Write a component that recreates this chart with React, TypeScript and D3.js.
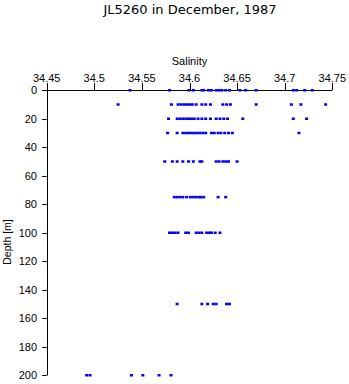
import React from "react";
import * as d3 from "d3";

const depthLevels = [0, 10, 20, 30, 50, 75, 100, 150, 200];

const sal0 = [34.5375, 34.579, 34.5995, 34.604, 34.613, 34.615, 34.620, 34.623, 34.628, 34.631, 34.634, 34.638, 34.642, 34.653, 34.659, 34.670, 34.709, 34.7126, 34.721, 34.729];
const sal10 = [34.525, 34.581, 34.588, 34.591, 34.594, 34.597, 34.600, 34.603, 34.607, 34.613, 34.617, 34.622, 34.635, 34.639, 34.643, 34.670, 34.707, 34.717, 34.743];
const sal20 = [34.578, 34.587, 34.590, 34.593, 34.596, 34.599, 34.602, 34.605, 34.609, 34.613, 34.617, 34.622, 34.628, 34.632, 34.636, 34.640, 34.656, 34.709, 34.723];
const sal30 = [34.577, 34.587, 34.593, 34.596, 34.599, 34.602, 34.605, 34.608, 34.611, 34.614, 34.617, 34.623, 34.626, 34.630, 34.633, 34.637, 34.641, 34.645, 34.715];
const sal50 = [34.574, 34.582, 34.587, 34.593, 34.599, 34.604, 34.611, 34.613, 34.628, 34.631, 34.635, 34.638, 34.641, 34.650];
const sal75 = [34.584, 34.587, 34.590, 34.593, 34.597, 34.601, 34.604, 34.607, 34.610, 34.612, 34.615, 34.630, 34.638];
const sal100 = [34.579, 34.582, 34.585, 34.588, 34.596, 34.599, 34.607, 34.610, 34.613, 34.618, 34.621, 34.623, 34.627, 34.632];
const sal150 = [34.587, 34.613, 34.619, 34.625, 34.628, 34.639, 34.642];
const sal200 = [34.492, 34.4955, 34.539, 34.551, 34.568, 34.5806];

const salByLevel = [sal0, sal10, sal20, sal30, sal50, sal75, sal100, sal150, sal200];

const xTicks = [34.45, 34.5, 34.55, 34.6, 34.65, 34.7, 34.75];
const yTicks = [0, 20, 40, 60, 80, 100, 120, 140, 160, 180, 200];

export default function App() {
  const W = 349, H = 384;
  const left = 46.7, right = 332.3, top = 90, bottom = 375;
  const x = d3.scaleLinear().domain([34.45, 34.75]).range([left, right]);
  const y = d3.scaleLinear().domain([0, 200]).range([top, bottom]);
  const font = "'Liberation Sans', Arial, sans-serif";

  const points: { s: number; d: number }[] = [];
  depthLevels.forEach((d, i) => salByLevel[i].forEach((s) => points.push({ s, d })));

  return (
    <svg width={W} height={H} style={{ position: "absolute", left: 0, top: 0, background: "#fff" }} fontFamily={font}>
      <rect x={0} y={0} width={W} height={H} fill="#fff" />
      <text x={190} y={14} textAnchor="middle" fontSize={13} fontFamily="'DejaVu Sans', sans-serif">JL5260 in December, 1987</text>
      <text x={(left + right) / 2} y={65} textAnchor="middle" fontSize={11}>Salinity</text>
      {/* top axis */}
      <line x1={left - 4.5} x2={right} y1={top + 0.5} y2={top + 0.5} stroke="#000" strokeWidth={1} />
      {xTicks.map((t) => (
        <g key={t}>
          <line x1={Math.round(x(t)) + 0.5} x2={Math.round(x(t)) + 0.5} y1={top} y2={top - 7} stroke="#000" />
          <text x={x(t)} y={82} textAnchor="middle" fontSize={11}>{t}</text>
        </g>
      ))}
      {/* left axis */}
      <line x1={Math.round(left) + 0.5} x2={Math.round(left) + 0.5} y1={top - 7} y2={bottom + 0.5} stroke="#000" />
      {yTicks.map((t) => (
        <g key={t}>
          <line x1={left - 4.5} x2={left} y1={Math.round(y(t)) + 0.5} y2={Math.round(y(t)) + 0.5} stroke="#000" />
          <text x={37} y={y(t) + 4} textAnchor="end" fontSize={11}>{t}</text>
        </g>
      ))}
      <text transform={`translate(10.5,242) rotate(-90)`} textAnchor="middle" fontSize={10.5}>Depth [m]</text>
      {points.map((p, i) => (
        <rect key={i} x={x(p.s) - 1.5} y={y(p.d) - 1} width={3} height={2.5} fill="#0000ff" />
      ))}
    </svg>
  );
}
